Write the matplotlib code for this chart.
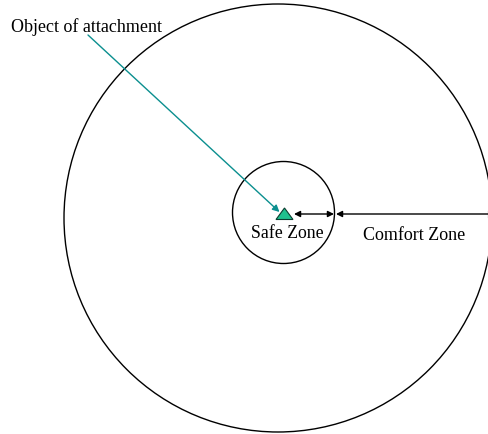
import matplotlib.pyplot as plt
from matplotlib.patches import Circle, Polygon

plt.rcParams['font.family'] = ['Liberation Serif', 'DejaVu Serif']

# zone circles: (center x, center y, radius) in pixel units of the picture
outer_zone = (278, 218, 214)
safe_zone = (283.5, 212.5, 51)

# object of attachment (triangle center) and label positions
obj_xy = (284.5, 214)
labels = ['Object of attachment', 'Safe Zone', 'Comfort Zone']
label_xy = [(11, 27), (287, 233), (414, 236)]

fig = plt.figure(figsize=(4.89, 4.34), dpi=100)
ax = fig.add_axes([0, 0, 1, 1])
ax.set_xlim(0, 489)
ax.set_ylim(434, 0)
ax.set_aspect('equal')
ax.axis('off')

for cx, cy, r in [outer_zone, safe_zone]:
    ax.add_patch(Circle((cx, cy), r, fill=False, edgecolor='black', lw=1.0))

# teal triangle
ox, oy = obj_xy
tri = Polygon([(ox - 8.5, oy + 5.5), (ox + 8.5, oy + 5.5), (ox, oy - 6)],
              closed=True, facecolor='#1fc08e', edgecolor='#0a3d30', lw=0.8, zorder=3)
ax.add_patch(tri)

# pointer from the label to the object
ax.annotate('', xy=(ox - 5, oy - 2), xytext=(88, 35),
            arrowprops=dict(arrowstyle='-|>', color='#0b8f8f', lw=1.0,
                            mutation_scale=10, shrinkA=0, shrinkB=0))

# safe zone span (double arrow)
ax.annotate('', xy=(294, oy), xytext=(334, oy),
            arrowprops=dict(arrowstyle='<|-|>', color='black', lw=1.0,
                            mutation_scale=9, shrinkA=0, shrinkB=0))
# comfort zone span
ax.annotate('', xy=(336, oy), xytext=(489, oy),
            arrowprops=dict(arrowstyle='-|>', color='black', lw=1.0,
                            mutation_scale=9, shrinkA=0, shrinkB=0))
ax.plot([488, 488], [oy - 3, oy + 3], color='black', lw=0.8)

ax.text(label_xy[0][0], label_xy[0][1], labels[0], fontsize=13,
        ha='left', va='center')
ax.text(label_xy[1][0], label_xy[1][1], labels[1], fontsize=12.8,
        ha='center', va='center')
ax.text(label_xy[2][0], label_xy[2][1], labels[2], fontsize=13,
        ha='center', va='center')

fig.savefig('out.png', dpi=100)
